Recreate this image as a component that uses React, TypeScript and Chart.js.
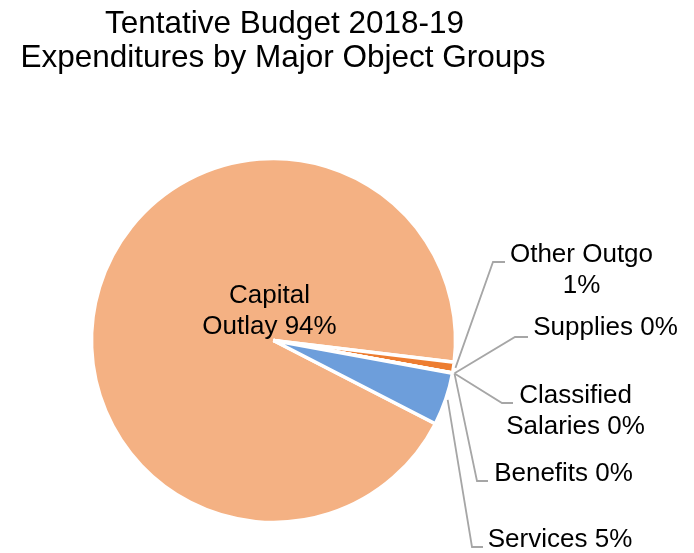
import React, { useEffect, useRef } from "react";
import { Chart, registerables } from "chart.js";

Chart.register(...registerables);

// ---- data ----
const categories = [
  "Capital Outlay",
  "Other Outgo",
  "Supplies",
  "Classified Salaries",
  "Benefits",
  "Services",
];
const shares = [94.35, 0.94, 0.02, 0.01, 0.01, 4.67];
const percentLabels = ["94%", "1%", "0%", "0%", "0%", "5%"];
const titleLines = ["Tentative Budget 2018-19", "Expenditures by Major Object Groups"];

// ---- styles / layout (not data) ----
const sliceColors = ["#F4B183", "#ED7D31", "#A5A5A5", "#FFC000", "#5B9BD5", "#6D9EDB"];
const FONT = '"Liberation Sans", Arial, sans-serif';
// label text lines, anchor (center x, first baseline), leader elbow
const labelLayout = [
  { lines: ["Capital", "Outlay 94%"], x: 269.5, y: 303, leader: null },
  { lines: ["Other Outgo", "1%"], x: 581.5, y: 262, leader: { ex: 493, ey: 262, hx: 505 } },
  { lines: ["Supplies 0%"], x: 605.5, y: 335, leader: { ex: 515, ey: 337, hx: 528 } },
  { lines: ["Classified", "Salaries 0%"], x: 575.5, y: 403, leader: { ex: 502, ey: 403, hx: 513 } },
  { lines: ["Benefits 0%"], x: 563.5, y: 481, leader: { ex: 477, ey: 481, hx: 488 } },
  { lines: ["Services 5%"], x: 560, y: 547, leader: { ex: 472, ey: 547, hx: 483 } },
];

const labelPlugin = {
  id: "customLabels",
  afterDraw(chart: any) {
    const ctx = chart.ctx;
    ctx.save();
    // title
    ctx.fillStyle = "#000";
    ctx.font = `31.5px ${FONT}`;
    ctx.textAlign = "center";
    ctx.textBaseline = "alphabetic";
    ctx.fillText(titleLines[0], 284.5, 33);
    ctx.fillText(titleLines[1], 283, 67);

    const meta = chart.getDatasetMeta(0);
    meta.data.forEach((arc: any, i: number) => {
      const lay = labelLayout[i];
      if (!lay) return;
      const { startAngle, endAngle, outerRadius, x, y } = arc.getProps(
        ["startAngle", "endAngle", "outerRadius", "x", "y"],
        true
      );
      const mid = (startAngle + endAngle) / 2;
      if (lay.leader) {
        const sx = x + Math.cos(mid) * (outerRadius + 2);
        const sy = y + Math.sin(mid) * (outerRadius + 2);
        ctx.strokeStyle = "#A6A6A6";
        ctx.lineWidth = 1.8;
        ctx.beginPath();
        ctx.moveTo(sx, sy);
        ctx.lineTo(lay.leader.ex, lay.leader.ey);
        ctx.lineTo(lay.leader.hx, lay.leader.ey);
        ctx.stroke();
      }
      ctx.fillStyle = "#000";
      ctx.font = `26px ${FONT}`;
      ctx.textAlign = "center";
      lay.lines.forEach((ln, k) => {
        ctx.fillText(ln, lay.x, lay.y + k * 30.5);
      });
    });
    ctx.restore();
  },
};

export default function App() {
  const ref = useRef<HTMLCanvasElement>(null);
  useEffect(() => {
    if (!ref.current) return;
    const chart = new Chart(ref.current, {
      type: "pie",
      data: {
        labels: categories.map((c, i) => `${c} ${percentLabels[i]}`),
        datasets: [
          {
            data: shares,
            backgroundColor: sliceColors,
            borderColor: "#FFFFFF",
            borderWidth: 3.5,
            radius: 182,
          } as any,
        ],
      },
      options: {
        responsive: false,
        animation: false,
        rotation: 117.2,
        layout: { padding: { left: 80, right: 227, top: 148, bottom: 20 } },
        plugins: {
          legend: { display: false },
          tooltip: { enabled: false },
          title: { display: false },
        },
      },
      plugins: [labelPlugin],
    });
    return () => chart.destroy();
  }, []);
  return (
    <div style={{ position: "absolute", left: 0, top: 0, width: 694, height: 553, background: "#fff" }}>
      <canvas ref={ref} width={694} height={553} style={{ display: "block" }} />
    </div>
  );
}
